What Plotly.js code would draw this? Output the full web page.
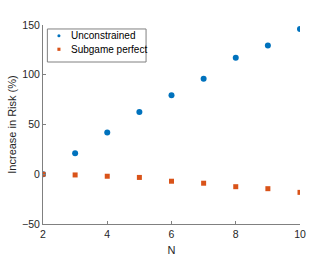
<!DOCTYPE html>
<html>
<head>
<meta charset="utf-8">
<script src="https://cdn.plot.ly/plotly-3.0.1.min.js"></script>
<style>html,body{margin:0;padding:0;background:#fff;}#chart{width:332px;height:262px;}</style>
</head>
<body>
<div id="chart"></div>
<script>
const N = [2, 3, 4, 5, 6, 7, 8, 9, 10];
const unconstrained = [0, 21, 42, 62.5, 79.5, 96, 117, 129.5, 146];
const subgamePerfect = [0, -0.7, -2, -3.2, -7, -9, -12.5, -14.5, -18.2];
const seriesNames = ['Unconstrained', 'Subgame perfect'];
const seriesColors = ['#0072BD', '#D95319'];
const xTicks = [2, 4, 6, 8, 10];
const yTicks = [-50, 0, 50, 100, 150];

const FONT = 'Liberation Sans, Arial, sans-serif';

const traces = [
  {x: N, y: unconstrained, name: seriesNames[0], type: 'scatter', mode: 'markers',
   marker: {color: seriesColors[0], size: 6, symbol: 'circle'}},
  {x: N, y: subgamePerfect, name: seriesNames[1], type: 'scatter', mode: 'markers',
   marker: {color: seriesColors[1], size: 5, symbol: 'square'}}
];

const axisCommon = {
  showgrid: false, zeroline: false, showline: true, linecolor: '#808080', linewidth: 1,
  ticks: 'inside', ticklen: 3, tickcolor: '#808080', tickwidth: 1,
  tickfont: {family: FONT, size: 10.5, color: '#262626'}
};

// custom compact legend (MATLAB style) in paper coordinates
const legX0 = 0.017, legX1 = 0.401, legY0 = 0.814, legY1 = 0.98;
const rowY = [0.946, 0.878];
const symX = 0.062, txtX = 0.103;
const shapes = [
  {type: 'rect', xref: 'paper', yref: 'paper', x0: legX0, x1: legX1, y0: legY0, y1: legY1,
   line: {color: '#808080', width: 1}, fillcolor: '#fff', layer: 'above'},
  {type: 'circle', xref: 'paper', yref: 'paper', x0: symX - 0.006, x1: symX + 0.006,
   y0: rowY[0] - 0.008, y1: rowY[0] + 0.008, line: {width: 0}, fillcolor: seriesColors[0], layer: 'above'},
  {type: 'rect', xref: 'paper', yref: 'paper', x0: symX - 0.006, x1: symX + 0.006,
   y0: rowY[1] - 0.008, y1: rowY[1] + 0.008, line: {width: 0}, fillcolor: seriesColors[1], layer: 'above'}
];
const annotations = seriesNames.map((nm, i) => ({
  xref: 'paper', yref: 'paper', x: txtX, y: rowY[i], xanchor: 'left', yanchor: 'middle',
  text: nm, showarrow: false, font: {family: FONT, size: 10, color: '#000'}
}));

const layout = {
  width: 332, height: 262,
  margin: {l: 43, r: 32, t: 25, b: 38},
  paper_bgcolor: '#fff', plot_bgcolor: '#fff',
  showlegend: false,
  shapes: shapes,
  annotations: annotations,
  xaxis: Object.assign({}, axisCommon, {range: [2, 10], tickvals: xTicks,
    title: {text: 'N', standoff: 7, font: {family: FONT, size: 11, color: '#262626'}}}),
  yaxis: Object.assign({}, axisCommon, {range: [-50, 150], tickvals: yTicks,
    title: {text: 'Increase in Risk (%)', standoff: 3, font: {family: FONT, size: 11, color: '#262626'}}})
};

Plotly.newPlot('chart', traces, layout, {displayModeBar: false, staticPlot: true});
</script>
</body>
</html>
